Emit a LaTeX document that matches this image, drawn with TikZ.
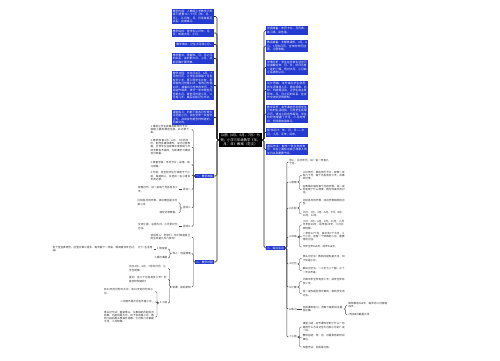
\documentclass[tikz,border=0pt]{standalone}
\usepackage{fontspec}
\setmainfont{Noto Sans CJK SC}
\XeTeXlinebreaklocale "zh"
\XeTeXlinebreakskip=0pt plus 0.5pt
\definecolor{bl}{RGB}{36,58,208}
\definecolor{ln}{RGB}{70,70,70}
\definecolor{tx}{RGB}{40,40,40}
\newcommand\bxf{\fontsize{2.8pt}{3.5pt}\selectfont}
\newcommand\lff{\fontsize{2.6pt}{3.2pt}\selectfont}
\newcommand\rtf{\fontsize{3.3pt}{4.3pt}\selectfont}
\tikzset{
  bbox/.style={fill=bl, text=white, font=\bxf, inner sep=1pt, align=left},
  rootbox/.style={fill=black, text=white, font=\rtf, inner sep=1.5pt, align=center, text width=40pt},
  leaf/.style={text=tx, font=\lff, inner sep=0.6pt, align=left},
  tw/.style={text width=#1},
  conn/.style={draw=ln, line width=0.4pt, rounded corners=1.2pt},
  trunk/.style={draw=black!85, line width=0.6pt, rounded corners=1.5pt},
}
\newcommand\lkL[3][conn]{\draw[#1] (#2.west) -- ++(-2pt,0) |- (#3.east);}
\newcommand\lkR[3][conn]{\draw[#1] (#2.east) -- ++(2pt,0) |- (#3.west);}
\begin{document}
\begin{tikzpicture}[x=1pt,y=-1pt]
\useasboundingbox (0,0) rectangle (500,360);
\fill[white] (0,0) rectangle (500,360);

% root
\node[rootbox] (root) at (240.5,140) {以图（4月、6月、7月）为例，小学三年级数学《年、月、日》教案（范文）};

% left top boxes
\node[bbox, tw=40pt, anchor=east] (L1) at (214,16.5) {教学内容：人教版小学数学三年级下册第76～77页《年、月、日》，认识年、月、日及其相互关系，完成练习。};
\node[bbox, tw=40pt, anchor=east] (L2) at (214,33) {教学目标：使学生认识年、月、日，知道大月、小月。};
\node[bbox, anchor=east] (L3) at (214,44.5) {教学难点：记住大月和小月。};
\node[bbox, tw=40pt, anchor=east] (L4) at (214,58.5) {教学重点：理解年、月、日之间的关系，会判断大月、小月，并能正确计算天数。};
\node[bbox, tw=40pt, anchor=east] (L5) at (214,85.5) {教学过程：先出示4月、6月、7月的月历，让学生观察每个月各有多少天，再引导学生比较，发现有的月份是31天，有的月份是30天；接着出示全年的年历，小组合作填表，统计一年中哪些月份是大月、哪些月份是小月，二月有几天；最后总结记忆方法。};
\node[bbox, tw=40pt, anchor=east] (L6) at (214,117.5) {课堂练习：判断下面各月份是大月还是小月，说出全年一共有多少天，并说说你是怎样知道的，同桌交流。};
\node[bbox, inner sep=0.8pt, anchor=east] (A) at (214,176) {一、教学准备};
\node[bbox, inner sep=0.8pt, anchor=east] (B) at (214,262) {二、教学过程};

% right top boxes
\node[bbox, tw=40pt, anchor=west] (R1) at (266,30.5) {学具准备：年历卡片、月历表、练习纸、彩色笔。};
\node[bbox, tw=40pt, anchor=west] (R2) at (266,46) {教具准备：多媒体课件，4月、6月、7月的月历，全年的年历挂图，记录表格。};
\node[bbox, tw=40pt, anchor=west] (R3) at (266,67.5) {学情分析：学生在日常生活中已经接触过年、月、日，对日历有一定的了解，但对大月、小月缺乏系统的认识。};
\node[bbox, tw=40pt, anchor=west] (R4) at (266,90.5) {设计思路：本节课从学生熟悉的生活情境入手，通过观察、比较、归纳等活动，让学生自主发现年、月、日之间的关系，在合作交流中获得新知。};
\node[bbox, tw=40pt, anchor=west] (R5) at (266,114) {教学反思：本节课充分利用学生已有的生活经验，引导学生观察月历，通过小组合作探究，学生较好地掌握了大月、小月的知识，但还需加强练习。};
\node[bbox, tw=40pt, anchor=west] (R6) at (266,132.5) {板书设计：年、月、日——大月、小月、平年、闰年。};
\node[bbox, tw=40pt, anchor=west] (R7) at (266,149.5) {课后作业：制作一张今年的年历，并在上面标出自己和家人的生日以及重要节日。};
\node[bbox, inner sep=0.8pt, anchor=west] (C) at (266,248) {三、探究活动};

% trunks
\foreach \n in {L1,L2,L3,L4,L5,L6,A,B} {\draw[trunk] (root.west) -- (217,140) |- (\n.east);}
\foreach \n in {R1,R2,R3,R4,R5,R6,R7,C} {\draw[trunk] (root.east) -- (264,140) |- (\n.west);}

% branch A
\node[leaf, tw=40pt, anchor=east] (A1) at (191.5,129.5) {1.课前让学生收集各种年历卡片，观察上面有哪些信息，并记录下来。};
\node[leaf, tw=40pt, anchor=east] (A2) at (191.5,147) {2.教师准备4月、6月、7月的月历，制作多媒体课件，设计记录表格，引导学生在观察中发现每个月的天数各不相同，为新课学习做好充分准备。};
\node[leaf, tw=40pt, anchor=east] (A3) at (191.5,164.5) {3.准备学具：年历卡片、彩笔、练习纸等。};
\node[leaf, tw=40pt, anchor=east] (A4) at (191.5,176) {4.分组：将全班学生分成若干个小组，每组四人，并选出一名小组长负责记录。};
\node[leaf, anchor=east] (A5) at (191.5,189.5) {活动一};
\node[leaf, anchor=east] (A6) at (191.5,208) {活动二};
\node[leaf, anchor=east] (A7) at (191.5,226.5) {活动三};
\foreach \n in {A1,A2,A3,A4,A5,A6,A7} {\lkL{A}{\n}}
\node[leaf, tw=40pt, anchor=east] (A5a) at (179,189.5) {观察月历，说一说每个月各有多少天。};
\draw[conn] (A5.west) -- (A5a.east);
\node[leaf, tw=40pt, anchor=east] (A6a) at (178.5,202.5) {比较各月的天数，找出哪些是大月和小月。};
\node[leaf, anchor=east] (A6b) at (178.5,213) {填写记录表格。};
\lkL{A6}{A6a} \lkL{A6}{A6b}
\node[leaf, tw=40pt, anchor=east] (A7a) at (179,226.5) {交流汇报，总结大月、小月的记忆方法。};
\draw[conn] (A7.west) -- (A7a.east);

% branch B
\node[leaf, tw=40pt, anchor=east] (B1) at (191.5,237) {谈话导入：同学们，你们知道自己的生日是几月几日吗？};
\node[leaf, anchor=east] (B2) at (191.5,253.5) {导入：创设情境};
\node[leaf, anchor=east] (B3) at (191.5,287) {新课：探究新知};
\foreach \n in {B1,B2,B3} {\lkL{B}{\n}}
\node[leaf, anchor=east] (B2a) at (168,249) {1.猜谜语};
\node[leaf, anchor=east] (B2b) at (168,258) {2.揭示课题};
\lkL{B2}{B2a} \lkL{B2}{B2b}
\node[leaf, tw=100pt, anchor=east] (B2a1) at (153.5,249) {有个宝宝真奇怪，肚里文章三百多，每天撕下一页来，等到撕完年已过。（打一生活用品）};
\draw[conn] (B2a.west) -- (B2a1.east);
\node[leaf, tw=38pt, anchor=east] (B3a) at (168,268.5) {出示4月、6月、7月的月历，让学生观察。};
\node[leaf, tw=38pt, anchor=east] (B3b) at (168,279.5) {提问：这几个月各有多少天？你是怎样知道的？};
\node[leaf, anchor=east] (B3c) at (168,303) {3.小结};
\foreach \n in {B3a,B3b,B3c} {\lkL{B3}{\n}}
\node[leaf, tw=50pt, anchor=east] (B3c1) at (155,291.5) {有31天的月份叫大月，有30天的月份叫小月。};
\node[leaf, anchor=east] (B3c2) at (155,302) {二月既不是大月也不是小月。};
\node[leaf, tw=50pt, anchor=east] (B3c3) at (155,317) {拳头记忆法：握紧拳头，从食指的凸起处开始数，凸起的是大月，凹下去的是小月，数到小指后再从食指开始数，七月和八月都是大月，二月特殊。};
\foreach \n in {B3c1,B3c2,B3c3} {\lkL{B3c}{\n}}

% branch C
\node[leaf, tw=40pt, anchor=west] (C1) at (288.5,162) {导入：出示年历，说一说一年有几个月。};
\node[leaf, anchor=west] (C2) at (288.5,182) {1.观察};
\node[leaf, anchor=west] (C3) at (288.5,208) {2.比较};
\node[leaf, anchor=west] (C4) at (288.5,237) {3.归纳};
\node[leaf, anchor=west] (C5) at (288.5,264) {4.记忆};
\node[leaf, anchor=west] (C6) at (288.5,287) {5.计算};
\node[leaf, anchor=west] (C7) at (288.5,309) {6.练习};
\node[leaf, anchor=west] (C8) at (288.5,337) {7.小结};
\foreach \n in {C1,C2,C3,C4,C5,C6,C7,C8} {\lkR{C}{\n}}

\node[leaf, tw=42pt, anchor=west] (C2a) at (302,175.5) {认识年历：拿出年历卡片，观察一年有几个月，每个月各有多少天，并做好记录。};
\node[leaf, tw=42pt, anchor=west] (C2b) at (302,189.5) {在表格中填写每个月的天数，说一说你发现了什么规律，再与同桌交流讨论。};
\lkR{C2}{C2a} \lkR{C2}{C2b}
\node[leaf, tw=42pt, anchor=west] (C3a) at (302,202) {比较各月的天数，找出天数相同的月份。};
\node[leaf, tw=42pt, anchor=west] (C3b) at (302,214) {大月：1月、3月、5月、7月、8月、10月、12月。};
\lkR{C3}{C3a} \lkR{C3}{C3b}
\node[leaf, tw=42pt, anchor=west] (C4a) at (302,225) {小月：4月、6月、9月、11月；二月平年有28天，闰年有29天，二月比较特殊。};
\node[leaf, tw=42pt, anchor=west] (C4b) at (302,236.5) {一年有12个月，其中有7个大月，4个小月，还有一个特殊的二月，需要特别记住。};
\node[leaf, anchor=west] (C4c) at (302,247) {平年全年365天，闰年366天。};
\lkR{C4}{C4a} \lkR{C4}{C4b} \lkR{C4}{C4c}
\node[leaf, tw=42pt, anchor=west] (C5a) at (302,258.5) {拳头记忆法：数到凸起处是大月，凹下处是小月。};
\node[leaf, tw=42pt, anchor=west] (C5b) at (302,270.5) {歌诀记忆法：一三五七八十腊，三十一天永不差。};
\lkR{C5}{C5a} \lkR{C5}{C5b}
\node[leaf, tw=42pt, anchor=west] (C6a) at (302,281.5) {计算平年全年有多少天，闰年全年有多少天。};
\node[leaf, tw=42pt, anchor=west] (C6b) at (302,293.5) {说一说你是怎样计算的，和同学交流方法。};
\lkR{C6}{C6a} \lkR{C6}{C6b}
\node[leaf, tw=40pt, anchor=west] (C7a) at (302,309) {完成课本练习，判断下面的说法是否正确。};
\draw[conn] (C7.east) -- (C7a.west);
\node[leaf, tw=40pt, anchor=west] (C7a1) at (347.5,305) {每年都有365天，每年的二月都有28天。};
\node[leaf, anchor=west] (C7a2) at (347.5,315) {7月和8月都是大月。};
\lkR{C7a}{C7a1} \lkR{C7a}{C7a2}
\node[leaf, tw=42pt, anchor=west] (C8a) at (302,327) {课堂小结：这节课你学到了什么？你是用什么方法记住大月和小月的？说一说。};
\node[leaf, tw=42pt, anchor=west] (C8b) at (302,337.5) {教师总结：年、月、日是常用的时间单位。};
\node[leaf, anchor=west] (C8c) at (302,347) {布置作业：完成练习册。};
\lkR{C8}{C8a} \lkR{C8}{C8b} \lkR{C8}{C8c}
\end{tikzpicture}
\end{document}
